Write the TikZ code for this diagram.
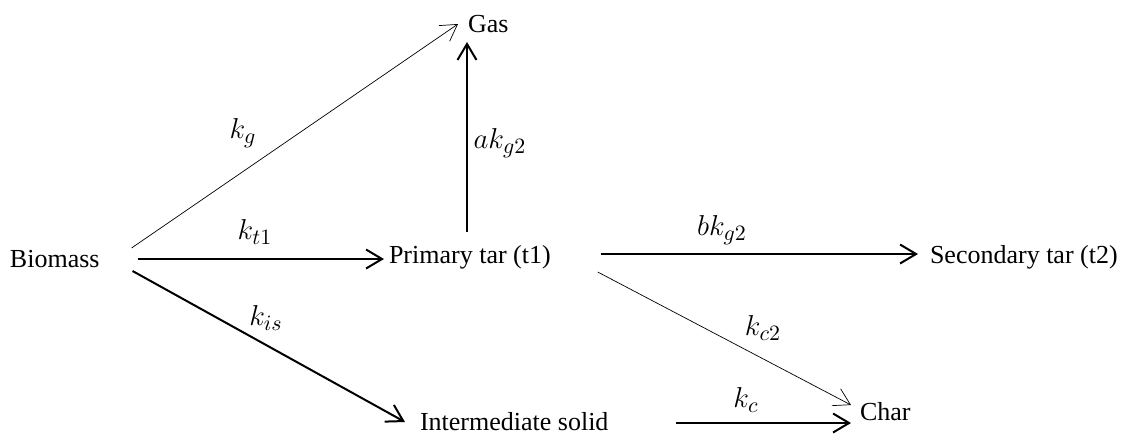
\documentclass[tikz,border=0pt]{standalone}
\usepackage{fontspec}
\setmainfont{Liberation Serif}
\usetikzlibrary{arrows.meta}
\begin{document}
\begin{tikzpicture}[x=0.5pt,y=-0.5pt,
  txt/.style={inner sep=0pt,outer sep=0pt,anchor=base west,font=\fontsize{13}{15}\selectfont},
  lbl/.style={inner sep=0pt,font=\fontsize{15}{17}\selectfont},
  thickarr/.style={line width=1pt,-{Straight Barb[length=8pt,width=9.5pt]}},
  thinarr/.style={line width=0.35pt,-{Straight Barb[length=8pt,width=9.5pt]}}]
\useasboundingbox (0,0) rectangle (1128,435);
% nodes
\node[txt] (gas) at (468,32) {Gas};
\node[txt] (bio) at (10,267) {Biomass};
\node[txt] (prim) at (389,263) {Primary tar (t1)};
\node[txt] (sec) at (930,263) {Secondary tar (t2)};
\node[txt] (inter) at (420,430) {Intermediate solid};
\node[txt] (char) at (860,420) {Char};
% connectors
\draw[thinarr] ([xshift=16pt,yshift=9.5pt]bio.base east) -- ([xshift=-5pt,yshift=4pt]gas.base west);
\draw[thickarr] ([xshift=19pt,yshift=4pt]bio.base east) -- ([xshift=-2.5pt,yshift=2pt]prim.base west);
\draw[thickarr] ([xshift=16.5pt,yshift=-2pt]bio.base east) -- ([xshift=-7.5pt,yshift=4pt]inter.base west);
\draw[thickarr] ([xshift=39pt,yshift=15.5pt]prim.base west) -- ([xshift=-0.5pt,yshift=-5pt]gas.base west);
\draw[thickarr] ([xshift=25pt,yshift=4.5pt]prim.base east) -- ([xshift=-6pt,yshift=4.5pt]sec.base west);
\draw[thinarr] ([xshift=23.5pt,yshift=-4.5pt]prim.base east) -- ([xshift=-4.5pt,yshift=7.5pt]char.base west);
\draw[thickarr] ([xshift=34pt,yshift=3.5pt]inter.base east) -- ([xshift=-4.5pt,yshift=-1.5pt]char.base west);
% labels
\node[lbl] (lkg) at (243,133) {$k_{g}$};
\node[lbl] (lakg) at (500,143) {$ak_{g2}$};
\node[lbl] (lkt) at (255,232) {$k_{t1}$};
\node[lbl] (lbkg) at (722,230) {$bk_{g2}$};
\node[lbl] (lkis) at (266,318) {$k_{is}$};
\node[lbl] (lkc2) at (763,328) {$k_{c2}$};
\node[lbl] (lkc) at (746,400) {$k_{c}$};
\end{tikzpicture}
\end{document}
